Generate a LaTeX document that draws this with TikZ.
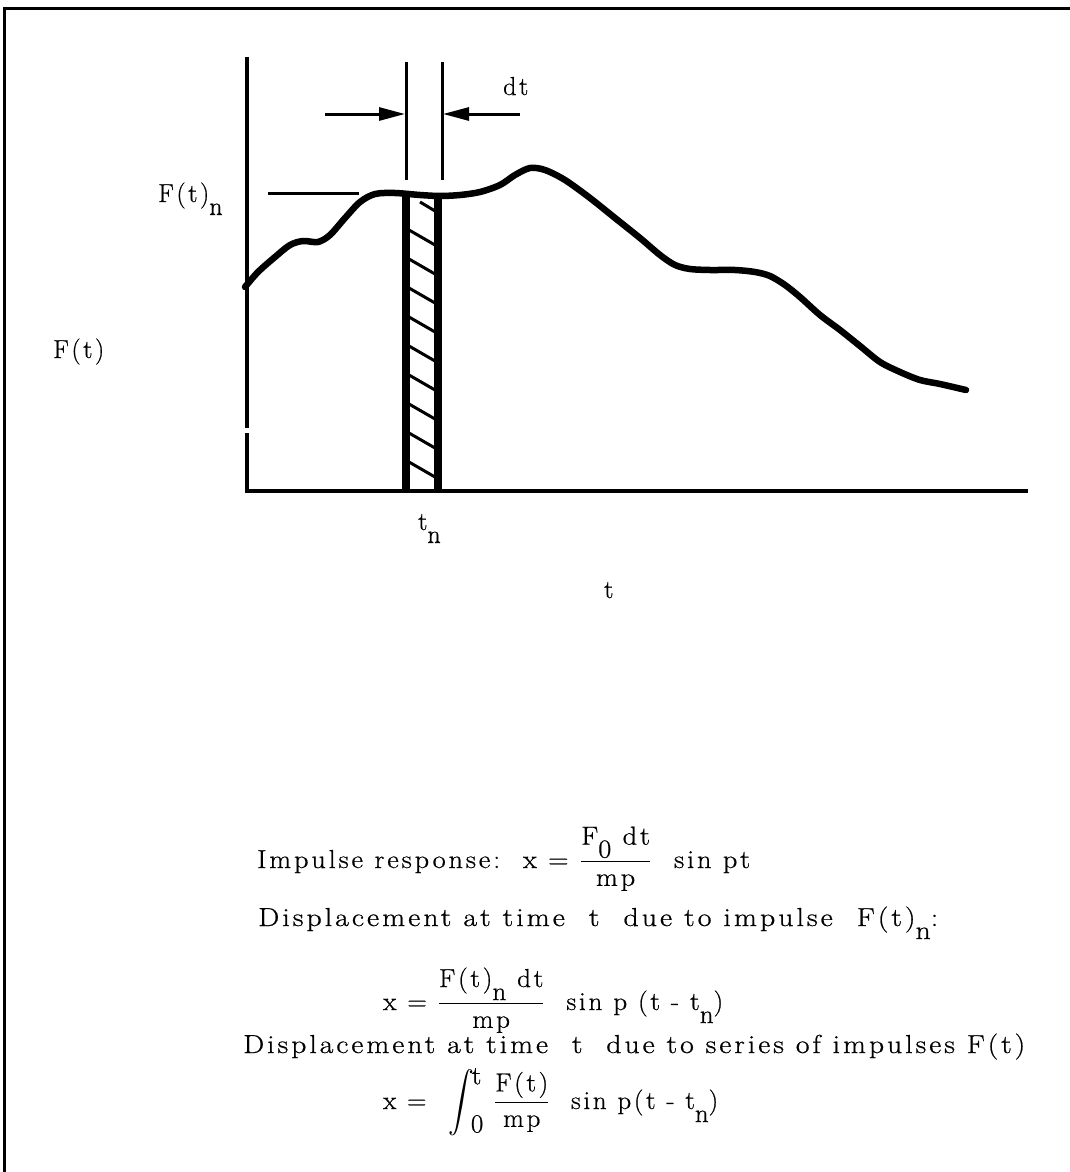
\RequirePackage{fix-cm}
\documentclass[tikz,border=0pt]{standalone}
\usepackage{exscale}
\usepackage{graphicx}
\usepackage{fontspec}
\usetikzlibrary{arrows.meta}
\newfontfamily\spc{Latin Modern Roman}[LetterSpace=10,FakeBold=0.7]
\newcommand\fs{\fontsize{26}{30}\selectfont\spc}
\newcommand\lo[1]{\raisebox{-0.5em}{#1}}
\newcommand\myfr[2]{$\displaystyle\frac{\hbox{\fs #1}}{\hbox{\fs #2}}$}
\newcommand\fitw[2]{\resizebox{#1}{\height}{#2}}
\newcommand\bigint{$\vcenter{\hbox{\scalebox{1}[1.2]{$\displaystyle\int$}}}$\kern-2pt\raisebox{0.95em}{t}\kern-10pt\raisebox{-0.9em}{0}}
\tikzset{
  lbl/.style={inner sep=0pt, anchor=base west, font=\fs},
  axisline/.style={line width=4pt},
  thin3/.style={line width=3pt},
  curve/.style={line width=6.5pt, line cap=round, line join=round},
  bar/.style={line width=7.5pt},
  hatch/.style={line width=3pt},
  dimarrow/.style={line width=3pt, -{Triangle[length=26pt,width=13pt]}},
}
\begin{document}
\begin{tikzpicture}[x=1pt,y=-1pt]
\useasboundingbox (0,0) rectangle (1070,1172);
% frame
\draw[line width=3pt] (4,1172) -- (4,9) -- (1070,9);
% axes
\coordinate (ytop) at (247,57);
\coordinate (gapA) at (247,428);
\coordinate (gapB) at (247,433);
\coordinate (orig) at (247,491);
\coordinate (xend) at (1028,491);
\draw[axisline] (ytop) -- (gapA);
\draw[axisline] (gapB) -- (orig) -- (xend);
% dt extension lines
\coordinate (dl1) at (406,62); \coordinate (dl2) at (406,180);
\coordinate (dr1) at (442,62); \coordinate (dr2) at (442,180);
\draw[thin3] (dl1) -- (dl2);
\draw[thin3] (dr1) -- (dr2);
\coordinate (al0) at (325,114); \coordinate (al1) at (405,114);
\coordinate (ar0) at (520,114); \coordinate (ar1) at (443,114);
\draw[dimarrow] (al0) -- (al1);
\draw[dimarrow] (ar0) -- (ar1);
% F(t)_n level line
\coordinate (fl0) at (268,193); \coordinate (fl1) at (359,193);
\draw[thin3] (fl0) -- (fl1);
% hatched strip
\draw[bar] (406,196) -- (406,491);
\draw[bar] (438,197) -- (438,491);
\draw[hatch] (420,202) -- (435,211);
\foreach \yy in {230,259,288,317,346,375,404,433,462}
  \draw[hatch] (409,\yy) -- (435,\yy+15);
% curve
\draw[curve] plot[smooth, tension=0.5] coordinates {
(245,287) (258,272) (275,257) (290,245) (303,241) (318,242) (330,235)
(345,218) (360,202) (375,194) (395,193) (420,195) (440,196) (460,195)
(480,192) (500,185) (515,175) (530,168) (545,170) (565,180) (590,198)
(615,218) (640,238) (660,255) (675,265) (690,269) (710,270) (735,270)
(755,272) (770,276) (785,285) (800,297) (820,315) (840,330) (860,346)
(880,362) (900,372) (920,380) (940,384) (966,390)};
% labels
\node[lbl] (dt) at (503,95) {dt};
\node[lbl] (ftn) at (158,202) {F(t)\lo{n}};
\node[lbl] (ft) at (53,358) {F(t)};
\node[lbl] (tn) at (418,530) {t\lo{n}};
\node[lbl] (t) at (604,598) {t};
% formulas
\node[lbl] (l1) at (257,868) {\fitw{493pt}{Impulse response:\ \ x = \myfr{F\lo{0} dt}{mp}\ \ sin pt}};
\node[lbl] (l2) at (258,926) {\fitw{680pt}{Displacement at time\ \ t\ \ due to impulse\ \ F(t)\lo{n}:}};
\node[lbl] (l3) at (383,1010) {\fitw{340pt}{x = \myfr{F(t)\lo{n} dt}{mp}\ \ sin p (t - t\lo{n})}};
\node[lbl] (l4) at (243,1053) {\fitw{782pt}{Displacement at time\ \ t\ \ due to series of impulses\ F(t)}};
\node[lbl] (l5) at (383,1109) {\fitw{335pt}{x = \ \bigint\ \myfr{F(t)}{mp}\ \ sin p(t - t\lo{n})}};
\end{tikzpicture}
\end{document}
